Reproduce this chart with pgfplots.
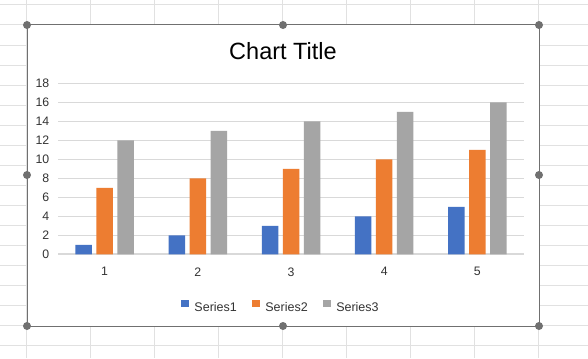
\documentclass[border=0pt]{standalone}
\usepackage{fontspec}
\setmainfont{Liberation Sans}
\usepackage{pgfplots}
\pgfplotsset{compat=1.18}
\definecolor{sblue}{HTML}{4472C4}
\definecolor{sorange}{HTML}{ED7D31}
\definecolor{sgray}{HTML}{A5A5A5}
\definecolor{gridc}{HTML}{D9D9D9}
\definecolor{sheet}{HTML}{E1E1E1}
\definecolor{framec}{HTML}{707070}
\definecolor{txt}{HTML}{333333}
\begin{document}
\begin{tikzpicture}[x=1bp,y=1bp]
\useasboundingbox (0,0) rectangle (588,358);
\fill[white] (0,0) rectangle (588,358);
\begin{scope}
\clip (0,0) rectangle (588,358);
\foreach \k in {0,...,17} \draw[sheet, line width=1bp] (0,353-20*\k) -- (588,353-20*\k);
\foreach \k in {0,...,8} \draw[sheet, line width=1bp] (26.7+64*\k,0) -- (26.7+64*\k,358);
\end{scope}
\fill[white] (27,32) rectangle (539,333);
\draw[framec, line width=1bp] (27,32) rectangle (539,333);
\begin{axis}[
  at={(58bp,103.7bp)}, anchor=south west,
  scale only axis, width=466bp, height=171bp,
  xmin=0.5, xmax=5.5, ymin=0, ymax=18,
  xtick={1,2,3,4,5}, ytick={0,2,...,18},
  ybar=4.5bp, bar width=16.5bp,
  axis line style={draw=none},
  major tick length=0pt,
  ymajorgrids, grid style={gridc, line width=1.1bp},
  extra y ticks={0}, extra y tick labels={},
  extra y tick style={grid style={gridc, line width=1.8bp}},
  /pgf/number format/assume math mode=true,
  ticklabel style={font=\fontsize{12.3bp}{14bp}\selectfont, text=txt, inner sep=0pt},
  yticklabel style={anchor=east, xshift=-8.5bp},
  xticklabel style={anchor=north, yshift=-13bp},
  legend columns=3,
  legend style={at={(0.476,-0.305)}, anchor=center, draw=none, fill=none,
    font=\fontsize{12.5bp}{14bp}\selectfont, text=txt,
    nodes={inner sep=0pt},
    /tikz/every odd column/.append style={column sep=5bp},
    /tikz/every even column/.append style={column sep=15bp}},
  legend image code/.code={\fill[#1] (0bp,0.6bp) rectangle (8.5bp,8.2bp);},
]
\addplot[fill=sblue, draw=none] coordinates {(1,1) (2,2) (3,3) (4,4) (5,5)};
\addplot[fill=sorange, draw=none] coordinates {(1,7) (2,8) (3,9) (4,10) (5,11)};
\addplot[fill=sgray, draw=none] coordinates {(1,12) (2,13) (3,14) (4,15) (5,16)};
\legend{Series1, Series2, Series3}
\end{axis}
\node[anchor=base, inner sep=0pt, font=\fontsize{23.5bp}{26bp}\selectfont] at (283,298.7) {Chart Title};
\foreach \p in {(27,333),(283,333),(539,333),(27,183),(539,183),(27,32),(283,32),(539,32)}
  \fill[framec] \p circle (4bp);
\end{tikzpicture}
\end{document}
